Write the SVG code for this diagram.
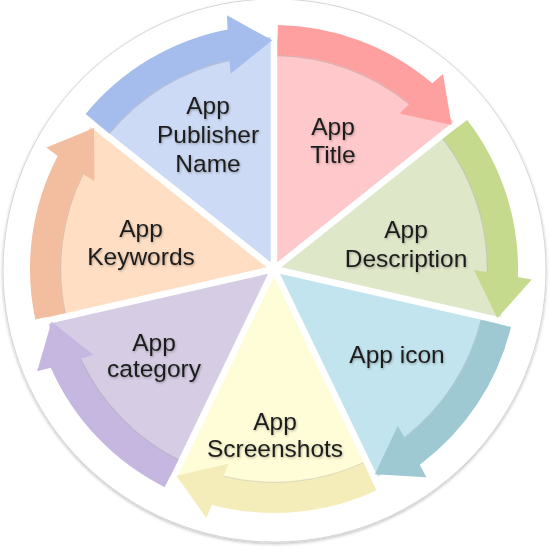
<svg xmlns="http://www.w3.org/2000/svg" width="550" height="550" viewBox="0 0 550 550">
  <defs>
    <filter id="circShadow" x="-10%" y="-10%" width="120%" height="120%">
      <feDropShadow dx="0" dy="1.5" stdDeviation="1.5" flood-color="#000" flood-opacity="0.25"/>
    </filter>
    <filter id="txtShadow" x="-10%" y="-20%" width="120%" height="140%">
      <feDropShadow dx="0.8" dy="1.2" stdDeviation="0.8" flood-color="#000" flood-opacity="0.3"/>
    </filter>
    <path id="wedge" d="M274 269 L274 37 A232 232 0 0 1 455.4 124.3 Z"/>
    <path id="arrow" d="M277.83 25.03 A244 244 0 0 1 432.3 83.3 L443.0 74.1 L451.6 125.0 L399.6 113.4 L409.8 103.6 A214 214 0 0 0 277.36 55.03 Z"/>
    <path id="shade" d="M277.4 55.5 A213.5 213.5 0 0 1 409.5 104.0"/>
  </defs>
  <style>
    .lbl { font-family: "Liberation Sans", Arial, sans-serif; font-size: 24.5px; fill: #1e1e1e; text-anchor: middle; filter: url(#txtShadow); }
    .shade { fill: none; stroke: #000; stroke-opacity: 0.13; stroke-width: 1.5; }
    .gap { stroke: #fff; stroke-width: 6.5; stroke-linecap: butt; }
  </style>

  <rect width="550" height="550" fill="#fff"/>
  <circle cx="274.5" cy="270.5" r="271.5" fill="#fff" stroke="#d6d6d6" stroke-width="1" filter="url(#circShadow)"/>

  <g id="wedges">
    <use href="#wedge" fill="#FFC8CA"/>
    <use href="#wedge" fill="#DFE7C9" transform="rotate(51.4286 274 269)"/>
    <use href="#wedge" fill="#C2E4EE" transform="rotate(102.8571 274 269)"/>
    <use href="#wedge" fill="#FFFDD7" transform="rotate(154.2857 274 269)"/>
    <use href="#wedge" fill="#D6CDE4" transform="rotate(205.7143 274 269)"/>
    <use href="#wedge" fill="#FFDEC4" transform="rotate(257.1429 274 269)"/>
    <use href="#wedge" fill="#CDDAF5" transform="rotate(308.5714 274 269)"/>
  </g>

  <g id="connectors">
    <line class="gap" x1="274" y1="269" x2="274" y2="19"/>
    <line class="gap" x1="274" y1="269" x2="469.5" y2="113.1"/>
    <line class="gap" x1="274" y1="269" x2="517.7" y2="324.6"/>
    <line class="gap" x1="274" y1="269" x2="382.5" y2="494.2"/>
    <line class="gap" x1="274" y1="269" x2="165.5" y2="494.2"/>
    <line class="gap" x1="274" y1="269" x2="30.3" y2="324.6"/>
    <line class="gap" x1="274" y1="269" x2="78.5" y2="113.1"/>
  </g>

  <g id="node-title">
    <use href="#shade" class="shade"/>
    <use href="#arrow" fill="#FFA0A0"/>
    <text class="lbl" x="333" y="135">App</text>
    <text class="lbl" x="333" y="163">Title</text>
  </g>

  <g id="node-description">
    <use href="#shade" class="shade" transform="rotate(51.4286 274 269)"/>
    <use href="#arrow" fill="#C5DA8C" transform="rotate(51.4286 274 269)"/>
    <text class="lbl" x="406" y="238">App</text>
    <text class="lbl" x="406" y="267">Description</text>
  </g>

  <g id="node-icon">
    <use href="#shade" class="shade" transform="rotate(102.8571 274 269)"/>
    <use href="#arrow" fill="#9EC8D2" transform="rotate(102.8571 274 269)"/>
    <text class="lbl" x="397" y="363">App icon</text>
  </g>

  <g id="node-screenshots">
    <use href="#shade" class="shade" transform="rotate(154.2857 274 269)"/>
    <use href="#arrow" fill="#F4EDB9" transform="rotate(154.2857 274 269)"/>
    <text class="lbl" x="275" y="430">App</text>
    <text class="lbl" x="275" y="457">Screenshots</text>
  </g>

  <g id="node-category">
    <use href="#shade" class="shade" transform="rotate(205.7143 274 269)"/>
    <use href="#arrow" fill="#C6B7E0" transform="rotate(205.7143 274 269)"/>
    <text class="lbl" x="154" y="351">App</text>
    <text class="lbl" x="154" y="377">category</text>
  </g>

  <g id="node-keywords">
    <use href="#shade" class="shade" transform="rotate(257.1429 274 269)"/>
    <use href="#arrow" fill="#F3BEA0" transform="rotate(257.1429 274 269)"/>
    <text class="lbl" x="141" y="237">App</text>
    <text class="lbl" x="141" y="265">Keywords</text>
  </g>

  <g id="node-publisher">
    <use href="#shade" class="shade" transform="rotate(308.5714 274 269)"/>
    <use href="#arrow" fill="#A4BDEC" transform="rotate(308.5714 274 269)"/>
    <text class="lbl" x="208" y="114">App</text>
    <text class="lbl" x="208" y="143">Publisher</text>
    <text class="lbl" x="208" y="172">Name</text>
  </g>
</svg>
